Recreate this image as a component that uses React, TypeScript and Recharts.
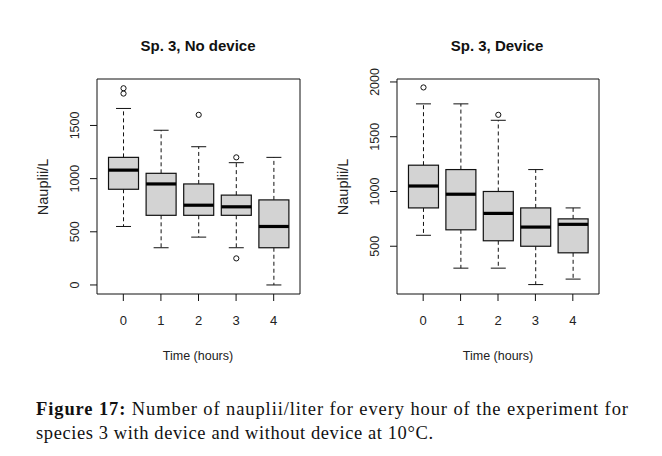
import React from "react";
import {
  ComposedChart,
  Bar,
  XAxis,
  YAxis,
  ReferenceArea,
} from "recharts";

// hours of the experiment
const hours = ["0", "1", "2", "3", "4"];

// Sp. 3, no device
const noDevMin = [550, 350, 450, 350, 0];
const noDevQ1 = [900, 655, 655, 655, 350];
const noDevMedian = [1080, 950, 750, 735, 550];
const noDevQ3 = [1200, 1050, 950, 845, 800];
const noDevMax = [1660, 1455, 1300, 1150, 1200];
const noDevOutliers = [[1850, 1800], [], [1600], [1200, 250], []];

// Sp. 3, device
const devMin = [600, 300, 300, 150, 200];
const devQ1 = [850, 650, 550, 500, 440];
const devMedian = [1050, 975, 800, 675, 700];
const devQ3 = [1240, 1200, 1000, 850, 750];
const devMax = [1800, 1800, 1650, 1200, 850];
const devOutliers = [[1950], [], [1700], [], []];

const noDevTicks = [0, 500, 1000, 1500];
const devTicks = [500, 1000, 1500, 2000];

const buildRows = (
  min: number[],
  q1: number[],
  med: number[],
  q3: number[],
  max: number[],
  out: number[][]
) =>
  hours.map((h, i) => ({
    x: i + 1,
    hour: h,
    min: min[i],
    q1: q1[i],
    med: med[i],
    q3: q3[i],
    max: max[i],
    out: out[i],
  }));

const noDevRows = buildRows(noDevMin, noDevQ1, noDevMedian, noDevQ3, noDevMax, noDevOutliers);
const devRows = buildRows(devMin, devQ1, devMedian, devQ3, devMax, devOutliers);

const INK = "#111";
const sans = "'Liberation Sans', Arial, sans-serif";
const serif = "'Liberation Serif', 'Times New Roman', serif";

const BoxShape = (props: any) => {
  const { x, y, width, height, payload } = props;
  const top = Math.min(y, y + height);
  const h = Math.abs(height);
  const ppu = h / (payload.q3 - payload.q1);
  const py = (v: number) => top + (payload.q3 - v) * ppu;
  const cx = x + width / 2;
  const cap = width / 4;
  return (
    <g>
      <line x1={cx} x2={cx} y1={py(payload.q3)} y2={py(payload.max)} stroke={INK} strokeDasharray="4,3" />
      <line x1={cx} x2={cx} y1={py(payload.q1)} y2={py(payload.min)} stroke={INK} strokeDasharray="4,3" />
      <line x1={cx - cap} x2={cx + cap} y1={py(payload.max)} y2={py(payload.max)} stroke={INK} />
      <line x1={cx - cap} x2={cx + cap} y1={py(payload.min)} y2={py(payload.min)} stroke={INK} />
      <rect x={x} y={top} width={width} height={h} fill="#d3d3d3" stroke={INK} strokeWidth={1.2} />
      <line x1={x} x2={x + width} y1={py(payload.med)} y2={py(payload.med)} stroke="#000" strokeWidth={3.2} />
      {payload.out.map((v: number, k: number) => (
        <circle key={k} cx={cx} cy={py(v)} r={2.6} fill="none" stroke={INK} />
      ))}
    </g>
  );
};

const yTick = (bx: number) => (props: any) => (
  <text
    x={bx}
    y={props.y}
    transform={`rotate(-90, ${bx}, ${props.y})`}
    textAnchor="middle"
    style={{ fontFamily: sans, fontSize: 12.5 }}
    fill="#222"
  >
    {props.payload.value}
  </text>
);

const xTick = (props: any) => (
  <text
    x={props.x}
    y={props.y + 24}
    textAnchor="middle"
    style={{ fontFamily: sans, fontSize: 13 }}
    fill="#222"
  >
    {hours[props.payload.value - 1]}
  </text>
);

const BoxPanel = ({
  rows,
  domain,
  ticks,
  yAxisWidth,
  labelX,
  marginRight,
}: {
  rows: any[];
  domain: [number, number];
  ticks: number[];
  yAxisWidth: number;
  labelX: number;
  marginRight: number;
}) => (
  <ComposedChart
    width={331}
    height={380}
    data={rows}
    margin={{ top: 79, right: marginRight, bottom: 56, left: 0 }}
  >
    <XAxis
      dataKey="x"
      type="number"
      domain={[0.3, 5.7]}
      ticks={[1, 2, 3, 4, 5]}
      allowDataOverflow
      height={30}
      tickSize={7}
      tickMargin={0}
      axisLine={false}
      tickLine={{ stroke: INK }}
      tick={xTick}
    />
    <YAxis
      type="number"
      domain={domain}
      ticks={ticks}
      allowDataOverflow
      width={yAxisWidth}
      tickSize={7}
      axisLine={false}
      tickLine={{ stroke: INK }}
      tick={yTick(labelX)}
    />
    <ReferenceArea
      x1={0.3}
      x2={5.7}
      y1={domain[0]}
      y2={domain[1]}
      fill="none"
      fillOpacity={0}
      stroke={INK}
      strokeOpacity={1}
      ifOverflow="visible"
    />
    <Bar
      dataKey={(d: any) => [d.q1, d.q3]}
      barSize={30}
      shape={BoxShape}
      isAnimationActive={false}
    />
  </ComposedChart>
);

const titleStyle = { fontFamily: sans, fontSize: 15, fontWeight: 700 };
const axisTitleStyle = { fontFamily: sans, fontSize: 12.5 };
const yTitleStyle = { fontFamily: sans, fontSize: 14.5 };
const captionStyle = { fontFamily: serif, fontSize: 18.5 };

export default function App() {
  return (
    <div
      style={{
        position: "absolute",
        left: 0,
        top: 0,
        width: 662,
        height: 456,
        background: "#fff",
        overflow: "hidden",
      }}
    >
      <div style={{ position: "absolute", left: 0, top: 0 }}>
        <BoxPanel
          rows={noDevRows}
          domain={[-85, 1937]}
          ticks={noDevTicks}
          yAxisWidth={97}
          labelX={79}
          marginRight={31}
        />
      </div>
      <div style={{ position: "absolute", left: 331, top: 0 }}>
        <BoxPanel
          rows={devRows}
          domain={[64, 2027]}
          ticks={devTicks}
          yAxisWidth={66}
          labelX={48}
          marginRight={63}
        />
      </div>
      <svg
        width={662}
        height={456}
        style={{ position: "absolute", left: 0, top: 0, pointerEvents: "none" }}
      >
        <text x={198} y={51} textAnchor="middle" style={titleStyle} fill="#111">
          Sp. 3, No device
        </text>
        <text x={497} y={51} textAnchor="middle" style={titleStyle} fill="#111">
          Sp. 3, Device
        </text>
        <text x={198} y={360} textAnchor="middle" style={axisTitleStyle} fill="#222">
          Time (hours)
        </text>
        <text x={498} y={360} textAnchor="middle" style={axisTitleStyle} fill="#222">
          Time (hours)
        </text>
        <text x={48} y={187} transform="rotate(-90, 48, 187)" textAnchor="middle" style={yTitleStyle} fill="#222">
          Nauplii/L
        </text>
        <text x={348} y={187} transform="rotate(-90, 348, 187)" textAnchor="middle" style={yTitleStyle} fill="#222">
          Nauplii/L
        </text>
        <text x={36} y={415} style={captionStyle} fill="#111" textLength={592} lengthAdjust="spacing">
          <tspan fontWeight="bold">Figure 17:</tspan> Number of nauplii/liter for every hour of the experiment for
        </text>
        <text x={36} y={439} style={captionStyle} fill="#111" textLength={397} lengthAdjust="spacing">
          species 3 with device and without device at 10°C.
        </text>
      </svg>
    </div>
  );
}
